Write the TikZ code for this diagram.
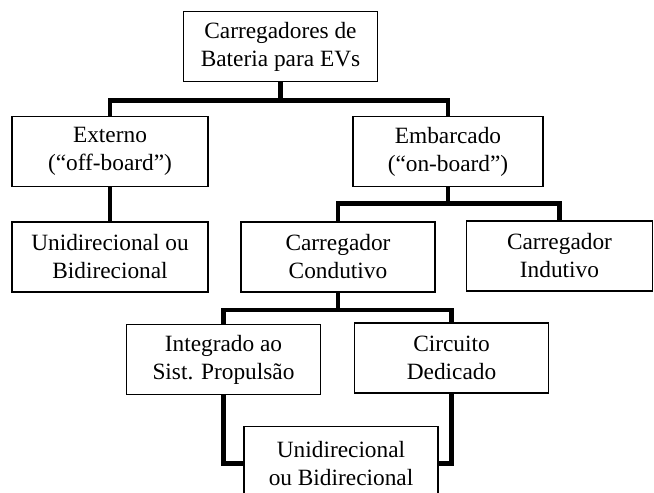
\documentclass[tikz,border=0pt]{standalone}
\usepackage{fontspec}
\setmainfont{Liberation Serif}
\begin{document}
\begin{tikzpicture}[x=.75pt,y=-.75pt,
  box/.style={draw,line width=.9pt,fill=white,inner sep=0pt,outer sep=0pt,
    minimum height=52.5pt,align=center,font=\fontsize{17.5}{21}\selectfont},
  link/.style={line width=3.4pt}]
\useasboundingbox(0,0)rectangle(654,493);
\clip(0,0)rectangle(654,493);
% nivel 1
\node[box,minimum width=146pt](top)at(280.5,46.5){Carregadores de\\Bateria para EVs};
% nivel 2
\node[box,minimum width=147pt](ext)at(110,151.5){Externo\\(“off-board”)};
\node[box,minimum width=142.5pt](emb)at(448,151.5){Embarcado\\(“on-board”)};
% nivel 3
\node[box,minimum width=147pt](uni1)at(110,257){Unidirecional ou\\Bidirecional};
\node[box,minimum width=145.5pt](cond)at(338,257){Carregador\\Condutivo};
\node[box,minimum width=139pt](ind)at(559.5,256){Carregador\\Indutivo};
% nivel 4
\node[box,minimum width=145pt](integ)at(223.5,359.5){Integrado ao\\Sist. Propulsão};
\node[box,minimum width=145pt](circ)at(451.5,358){Circuito\\Dedicado};
\node[box,minimum width=145.5pt,minimum height=56pt](uni2)at(341,463.5){Unidirecional\\ou Bidirecional};
% ligacoes
\draw[link](top.south)--++(0,19)-|(ext.north);
\draw[link](top.south)--++(0,19)-|(emb.north);
\draw[link](ext.south)--(uni1.north);
\draw[link](emb.south)--++(0,17)-|(cond.north);
\draw[link](emb.south)--++(0,17)-|(ind.north);
\draw[link](cond.south)--++(0,18)-|(integ.north);
\draw[link](cond.south)--++(0,18)-|(circ.north);
\draw[link](integ.south)|-(uni2.west);
\draw[link](circ.south)|-(uni2.east);
\end{tikzpicture}
\end{document}
